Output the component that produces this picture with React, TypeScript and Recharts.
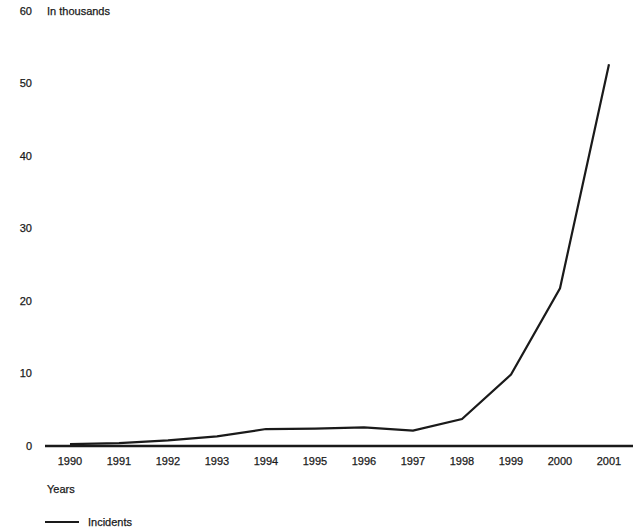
import { LineChart, Line, XAxis, YAxis, Legend, Label } from 'recharts';

// CERT incidents, in thousands
const years = ['1990', '1991', '1992', '1993', '1994', '1995', '1996', '1997', '1998', '1999', '2000', '2001'];
const incidents = [0.25, 0.41, 0.77, 1.33, 2.34, 2.41, 2.57, 2.13, 3.73, 9.86, 21.76, 52.66];
const yTicks = [0, 10, 20, 30, 40, 50, 60];

const data = years.map((year, i) => ({ year, incidents: incidents[i] }));

const FONT = '"Liberation Sans", Arial, Helvetica, sans-serif';
const INK = '#1a1a1a';
const tickStyle = { fontSize: 11, fill: INK, fontFamily: FONT, stroke: INK, strokeWidth: 0.25 };

const renderLegend = () => (
  <div style={{ display: 'flex', alignItems: 'center', fontFamily: FONT, fontSize: 11, color: INK }}>
    <svg width={34} height={6} style={{ marginRight: 9 }}>
      <line x1={0} y1={3} x2={34} y2={3} stroke={INK} strokeWidth={2.2} />
    </svg>
    <span style={{ WebkitTextStroke: '0.25px #1a1a1a' }}>Incidents</span>
  </div>
);

export default function App() {
  return (
    <div style={{ position: 'absolute', left: 0, top: 0, background: '#fff' }}>
      <LineChart width={634} height={528} data={data} margin={{ top: 11, right: 1, left: 0, bottom: 36 }}>
        <XAxis
          dataKey="year"
          tick={tickStyle}
          tickLine={false}
          tickMargin={5}
          axisLine={{ stroke: INK, strokeWidth: 2.5 }}
          padding={{ left: 25, right: 24 }}
          height={30}
        >
          <Label
            content={({ viewBox }: any) => (
              <text
                x={viewBox.x + 2}
                y={viewBox.y + 43}
                dominantBaseline="central"
                fontSize={11}
                fontFamily={FONT}
                fill={INK}
                stroke={INK}
                strokeWidth={0.25}
              >
                Years
              </text>
            )}
          />
        </XAxis>
        <YAxis
          domain={[0, 60]}
          ticks={yTicks}
          tick={tickStyle}
          tickLine={false}
          axisLine={false}
          tickMargin={7}
          width={45}
        >
          <Label
            content={({ viewBox }: any) => (
              <text
                x={viewBox.x + viewBox.width + 2}
                y={viewBox.y}
                dominantBaseline="central"
                fontSize={11}
                fontFamily={FONT}
                fill={INK}
                stroke={INK}
                strokeWidth={0.25}
              >
                In thousands
              </text>
            )}
          />
        </YAxis>
        <Legend
          verticalAlign="bottom"
          content={renderLegend}
          wrapperStyle={{ position: 'absolute', left: 45, top: 516, width: 200, height: 16 }}
        />
        <Line
          type="linear"
          dataKey="incidents"
          stroke={INK}
          strokeWidth={2.2}
          dot={false}
          activeDot={false}
          isAnimationActive={false}
        />
      </LineChart>
    </div>
  );
}
